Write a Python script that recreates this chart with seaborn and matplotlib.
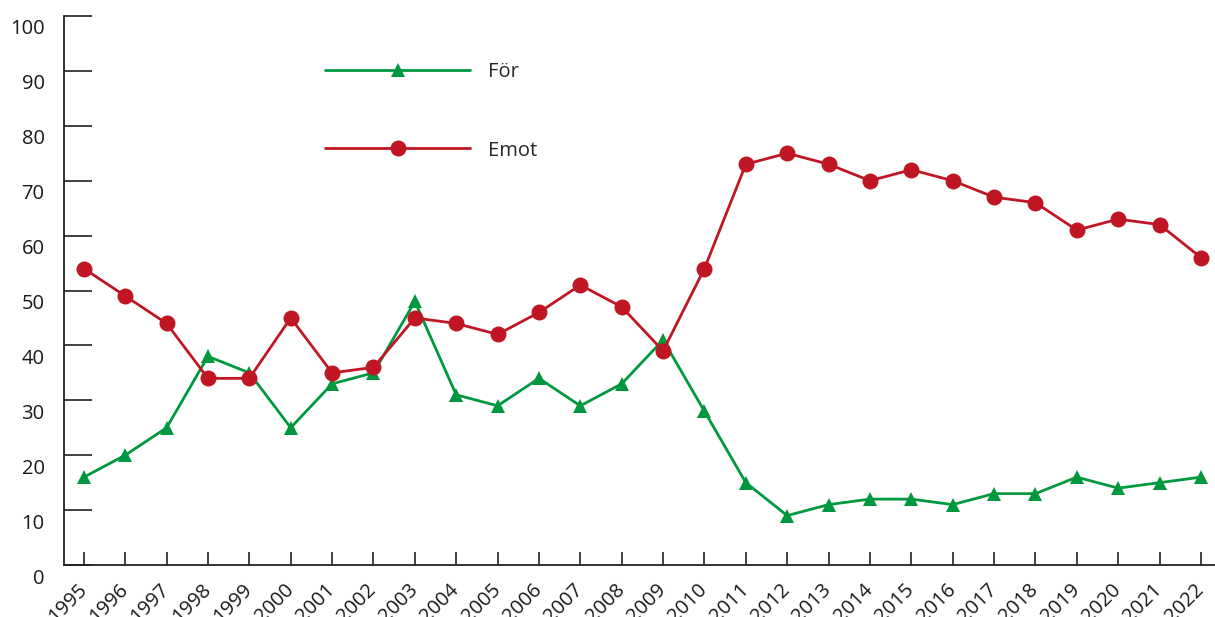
import matplotlib
matplotlib.use("Agg")
import matplotlib.pyplot as plt
import matplotlib.transforms as mtransforms
import pandas as pd
import seaborn as sns

sns.set_theme(style="white")
plt.rcParams["font.family"] = ["Open Sans", "DejaVu Sans"]

YEARS = list(range(1995, 2023))
FOR = [16, 20, 25, 38, 35, 25, 33, 35, 48, 31, 29, 34, 29, 33, 41, 28,
       15, 9, 11, 12, 12, 11, 13, 13, 16, 14, 15, 16]
EMOT = [54, 49, 44, 34, 34, 45, 35, 36, 45, 44, 42, 46, 51, 47, 39, 54,
        73, 75, 73, 70, 72, 70, 67, 66, 61, 63, 62, 56]
Y_TICKS = list(range(0, 101, 10))

GREEN = "#00983f"
RED = "#c01624"
FS = 14.5

df = pd.DataFrame({"year": YEARS, "För": FOR, "Emot": EMOT})

fig = plt.figure(figsize=(12.15, 6.17), dpi=100)
ax = fig.add_axes([64 / 1215, 1 - 565 / 617, 1 - 64 / 1215, (565 - 16) / 617])

sns.lineplot(data=df, x="year", y="För", ax=ax, color=GREEN, lw=2.0,
             marker="^", markersize=10, markeredgewidth=0, label="För")
sns.lineplot(data=df, x="year", y="Emot", ax=ax, color=RED, lw=2.0,
             marker="o", markersize=11.5, markeredgewidth=0, label="Emot")

ax.set_xlim(1994.52, 2022.34)
ax.set_ylim(0, 100)
ax.set_xticks(YEARS)
ax.set_xticklabels([str(y) for y in YEARS], rotation=45, ha="right",
                   va="center", rotation_mode="anchor", fontsize=FS)
ax.set_yticks(Y_TICKS)
ax.set_yticklabels([str(v) for v in Y_TICKS], fontsize=FS)
ax.set_xlabel("")
ax.set_ylabel("")

for side in ("top", "right"):
    ax.spines[side].set_visible(False)
for side in ("left", "bottom"):
    ax.spines[side].set_color("#222222")
    ax.spines[side].set_linewidth(1.3)

ax.tick_params(axis="y", left=True, direction="in", length=20, width=1.3,
               color="#333333", pad=14, labelcolor="#1a1a1a")
ax.tick_params(axis="x", bottom=True, direction="in", length=9.5, width=1.3,
               color="#333333", pad=16, labelcolor="#1a1a1a")

# y labels sit a little below their ticks
shift = mtransforms.ScaledTranslation(0, -11 / 100, fig.dpi_scale_trans)
for lab in ax.get_yticklabels():
    lab.set_transform(lab.get_transform() + shift)

ax.legend(loc="upper left", bbox_to_anchor=(243 / 1151, 1 - 28 / 549),
          frameon=False, fontsize=FS, handlelength=7.2, labelspacing=2.9,
          handletextpad=0.9)

fig.savefig("out.png", dpi=100)
